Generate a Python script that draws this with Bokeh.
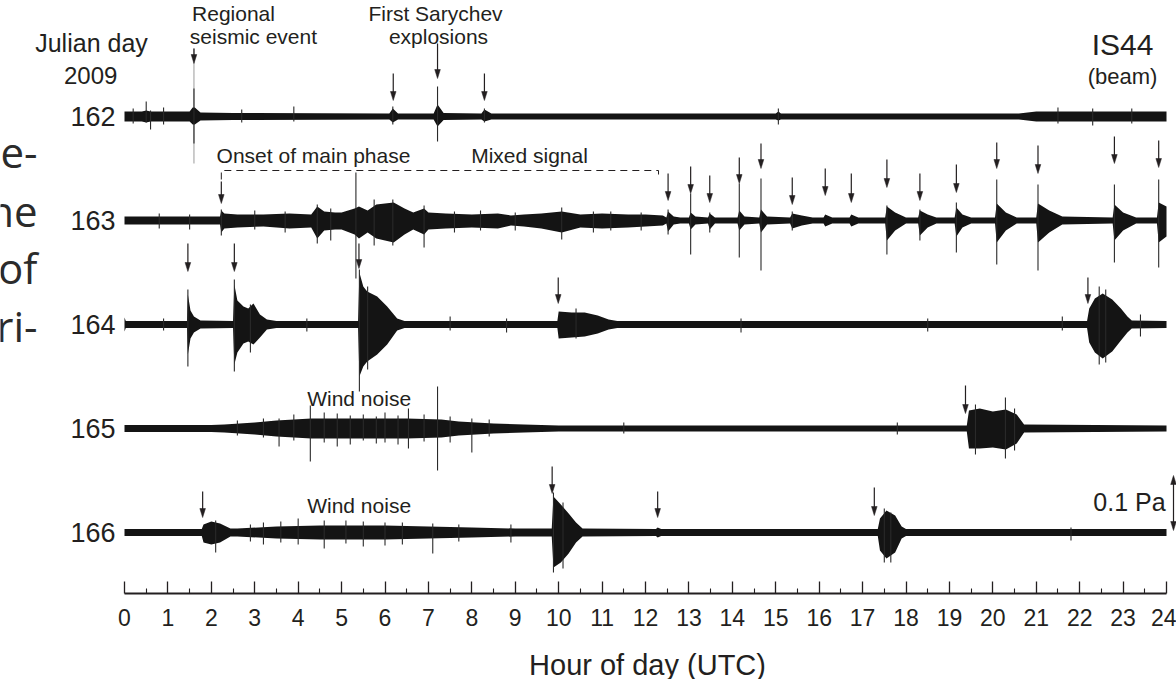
from bokeh.plotting import figure
from bokeh.layouts import column
from bokeh.models import Range1d, LinearAxis, FixedTicker
from bokeh.core.properties import value
from bokeh.embed import file_html
from bokeh.resources import INLINE

# ---------------- data ----------------
DAYS = [162, 163, 164, 165, 166]
HOUR_TICKS = list(range(25))
HALF_HOURS = [h + 0.5 for h in range(24)]
X_TITLE = "Hour of day (UTC)"

# envelope breakpoints per day: (hour, amplitude above, amplitude below)
# amplitude units: 55 units = 0.1 Pa (scale bar)
D162 = [(0, 5, 5), (0.4, 5, 5), (0.5, 6, 6), (0.6, 5, 5), (1.5, 5, 5), (1.57, 9, 8), (1.62, 9, 8),
        (1.75, 4, 4), (2.5, 3.5, 3.5), (6.1, 3, 3), (6.18, 8, 6), (6.3, 3, 3), (7.12, 3, 3),
        (7.21, 12, 10), (7.35, 3.5, 3.5), (8.22, 3, 3), (8.29, 7, 5), (8.45, 3, 3), (15.0, 3, 3),
        (15.06, 5, 4), (15.12, 3, 3), (20.6, 3, 3), (21.0, 5, 5), (24, 5, 5)]
D163 = [(0, 4, 4), (2.2, 4, 4), (2.23, 10, 12), (2.3, 7, 8), (2.6, 6, 7), (3.2, 6, 6), (3.8, 7, 8),
        (4.3, 6, 7), (4.44, 14, 18), (4.6, 9, 10), (4.85, 8, 9), (5.0, 8, 9), (5.3, 12, 14),
        (5.4, 14, 18), (5.6, 10, 12), (5.8, 16, 18), (6.0, 17, 20), (6.2, 18, 22), (6.45, 12, 14),
        (6.65, 8, 9), (6.9, 12, 14), (7.0, 8, 9), (7.4, 7, 8), (8.0, 6, 7), (8.6, 7, 8), (8.9, 5, 5),
        (9.2, 6, 6), (9.6, 7, 8), (10.07, 9, 12), (10.5, 6, 7), (11.0, 7, 8), (11.6, 6, 7),
        (12.0, 6, 6), (12.4, 5, 5), (12.48, 3, 3), (12.52, 9, 11), (12.65, 4, 4), (12.8, 3, 3),
        (13.0, 3, 3), (13.04, 8, 9), (13.15, 4, 4), (13.44, 3, 3), (13.48, 7, 9), (13.6, 3, 3),
        (14.12, 3, 3), (14.16, 10, 10), (14.28, 4, 4), (14.62, 3, 3), (14.66, 11, 12), (14.8, 4, 4),
        (15.33, 3, 3), (15.38, 7, 8), (15.6, 5, 5), (15.85, 3, 3), (16.1, 3, 3), (16.14, 6, 6),
        (16.3, 3, 3), (16.7, 3, 3), (16.74, 6, 6), (16.9, 3, 3), (17.52, 3, 3), (17.56, 14, 20),
        (17.75, 8, 10), (18.0, 3, 3), (18.28, 3, 3), (18.32, 10, 15), (18.5, 6, 7), (18.7, 3, 3),
        (19.12, 3, 3), (19.16, 13, 16), (19.3, 6, 7), (19.5, 3, 3), (20.05, 3, 3), (20.09, 17, 22),
        (20.3, 8, 10), (20.55, 3, 3), (21.0, 3, 3), (21.04, 17, 22), (21.3, 10, 12), (21.6, 4, 4),
        (22.76, 3, 3), (22.8, 16, 20), (23.0, 8, 10), (23.3, 3, 3), (23.78, 3, 3), (23.82, 18, 22),
        (24, 14, 16)]
D164 = [(0, 7, 7), (0.03, 3.5, 3.5), (1.44, 3.5, 3.5), (1.46, 30, 30), (1.52, 14, 14), (1.6, 8, 8),
        (1.75, 4, 4), (2.5, 3.5, 3.5), (2.53, 40, 40), (2.6, 24, 28), (2.74, 18, 19), (2.85, 16, 17),
        (2.97, 21, 20), (3.12, 10, 13), (3.28, 5, 5), (3.5, 3.5, 3.5), (5.38, 3.5, 3.5),
        (5.41, 52, 52), (5.5, 38, 42), (5.59, 33, 37), (5.82, 28, 30), (6.05, 18, 20), (6.28, 6, 6),
        (6.45, 3.5, 3.5), (9.97, 3.5, 3.5), (10.0, 13, 14), (10.3, 12, 13), (10.6, 12, 12),
        (10.9, 9, 9), (11.15, 5, 5), (11.35, 3.5, 3.5), (22.17, 3.5, 3.5), (22.22, 16, 18),
        (22.35, 26, 28), (22.53, 31, 34), (22.75, 25, 27), (22.95, 16, 16), (23.1, 8, 8),
        (23.2, 4, 4), (24, 3.5, 3.5)]
D165 = [(0, 3.5, 3.5), (2.0, 3.5, 3.5), (2.3, 4, 4), (3.0, 6, 6), (3.5, 8, 8), (4.3, 10, 10),
        (5.5, 10, 10), (6.5, 10, 10), (7.3, 9, 9), (7.7, 7, 7), (8.5, 5, 5), (9.2, 4, 4), (10, 3, 3),
        (19.4, 3, 3), (19.45, 18, 20), (19.7, 20, 20), (20.0, 17, 19), (20.3, 19, 21),
        (20.55, 14, 15), (20.72, 4, 4), (24, 3, 3)]
D166 = [(0, 3.5, 3.5), (1.78, 3.5, 3.5), (1.82, 8, 10), (2.0, 11, 12), (2.2, 9, 10), (2.44, 4, 4),
        (2.6, 4, 4), (3.5, 6, 6), (4.5, 7, 7), (6.0, 7, 7), (7.0, 6, 6), (8.0, 5, 5), (9.0, 4, 4),
        (9.84, 4, 4), (9.88, 36, 35), (10.05, 28, 30), (10.23, 19, 21), (10.4, 10, 10),
        (10.55, 4, 4), (12.24, 3.5, 3.5), (12.28, 5, 5), (12.36, 3.5, 3.5), (17.35, 3.5, 3.5),
        (17.4, 14, 18), (17.55, 22, 26), (17.75, 17, 20), (17.9, 6, 6), (18.0, 3.5, 3.5),
        (24, 3.5, 3.5)]

# isolated spikes per day: (hour, peak above, peak below)
S162 = [(0.2, 8, 7), (0.5, 15, 6), (0.6, 6, 13), (0.9, 9, 8), (1.6, 28, 27), (2.7, 7, 6),
        (3.9, 10, 5), (6.18, 10, 8), (7.21, 30, 25), (8.29, 8, 6), (15.06, 8, 8), (21.5, 9, 7),
        (22.3, 8, 9), (23.2, 8, 7)]
S163 = [(0.8, 7, 8), (1.5, 6, 9), (2.23, 11, 15), (3.0, 10, 9), (3.7, 9, 12), (4.44, 16, 23),
        (4.75, 12, 20), (5.33, 48, 58), (5.75, 21, 25), (6.18, 21, 25), (6.9, 15, 27), (7.6, 9, 12),
        (8.2, 10, 10), (9.0, 8, 10), (10.07, 13, 19), (10.8, 9, 12), (11.2, 9, 10), (11.9, 8, 10),
        (12.52, 11, 14), (13.04, 27, 34), (13.48, 8, 12), (14.16, 37, 37), (14.66, 42, 50),
        (15.38, 9, 10), (17.56, 15, 34), (18.32, 11, 20), (19.16, 18, 32), (20.09, 41, 44),
        (21.04, 36, 50), (22.8, 36, 42), (23.82, 41, 47)]
S164 = [(0.9, 6, 6), (1.46, 35, 42), (2.53, 45, 47), (2.9, 20, 28), (4.2, 6, 7), (5.41, 55, 67),
        (5.6, 38, 45), (7.5, 8, 6), (8.8, 6, 8), (10.4, 16, 14), (14.2, 6, 8), (18.5, 6, 7),
        (21.6, 8, 6), (22.45, 38, 40), (22.6, 35, 38), (23.4, 10, 12)]
S165 = [(2.6, 8, 7), (3.2, 10, 9), (3.56, 10, 18), (3.9, 14, 12), (4.28, 23, 33), (4.6, 16, 14),
        (4.9, 15, 18), (5.2, 13, 16), (5.5, 14, 12), (5.8, 12, 15), (6.0, 16, 14), (6.3, 13, 16),
        (6.54, 20, 20), (6.9, 14, 13), (7.21, 42, 42), (7.5, 12, 14), (8.0, 10, 24), (8.4, 9, 8),
        (11.5, 6, 5), (17.8, 6, 6), (19.6, 24, 26), (20.29, 31, 30), (20.5, 20, 22)]
S166 = [(2.1, 12, 20), (2.9, 8, 9), (3.2, 10, 12), (3.6, 11, 10), (4.0, 14, 12), (4.6, 12, 16),
        (5.1, 12, 11), (5.5, 11, 14), (6.0, 10, 13), (6.4, 10, 12), (7.1, 9, 21), (7.7, 8, 9),
        (8.9, 8, 10), (9.88, 40, 40), (10.1, 30, 36), (17.5, 24, 30), (17.65, 20, 30),
        (21.8, 5, 8)]

ENVELOPES = [D162, D163, D164, D165, D166]
SPIKES = [S162, S163, S164, S165, S166]

# event arrows: hour, top of shaft, tip (page rows)
ARROW_H = [1.60, 6.19, 7.21, 8.29, 2.23, 12.52, 13.04, 13.48, 14.16, 14.66, 15.38, 16.14, 16.74,
           17.56, 18.32, 19.16, 20.09, 21.04, 22.80, 23.82, 1.46, 2.53, 5.40, 9.99, 22.19, 19.37,
           1.80, 9.85, 12.28, 17.27]
ARROW_TOP = [48, 73, 43, 73, 181, 173, 166, 175, 157, 143, 177, 168, 173, 159, 173, 164, 142, 145,
             136, 140, 243, 243, 243, 277, 277, 385, 491, 466, 491, 487]
ARROW_TIP = [63, 100, 78, 100, 203, 200, 193, 202, 183, 168, 204, 195, 202, 187, 200, 192, 168, 173,
             163, 167, 271, 271, 268, 303, 303, 413, 517, 493, 517, 515]

# ---------------- layout ----------------
PX_PER_H = 43.417
X0 = -124 / PX_PER_H
X1 = (1176 - 124) / PX_PER_H
BASE0, SPACING = 116, 104
INK = "#231f20"
FONT = value("Liberation Sans")
TOP_H, TITLE_H = 639, 40

xr = Range1d(X0, X1)
p = figure(width=1176, height=TOP_H, x_range=xr, y_range=Range1d(593, 0),
           x_axis_type=None, y_axis_type=None, output_backend="svg", toolbar_location=None,
           min_border_left=0, min_border_right=0, min_border_top=0, min_border_bottom=TOP_H - 593)
p.outline_line_color = None
p.background_fill_color = "white"
p.border_fill_color = "white"

# faint full-height trace of the regional event
p.segment(x0=[1.6], y0=[48], x1=[1.6], y1=[163], line_color="#9a9a9a", line_width=1)

for i, (env, spk) in enumerate(zip(ENVELOPES, SPIKES)):
    base = BASE0 + i * SPACING
    hx = [e[0] for e in env]
    p.varea(x=hx, y1=[base - e[1] for e in env], y2=[base + e[2] for e in env],
            fill_color="#141414")
    p.segment(x0=[s[0] for s in spk], y0=[base - s[1] for s in spk],
              x1=[s[0] for s in spk], y1=[base + s[2] for s in spk],
              line_color="#2a2a2a", line_width=1.1)

# arrows
HEAD_L = 9
HEAD_W = 2.8 / PX_PER_H
p.segment(x0=ARROW_H, y0=ARROW_TOP, x1=ARROW_H, y1=[t - HEAD_L + 1 for t in ARROW_TIP],
          line_color=INK, line_width=1.2)
p.patches(xs=[[h - HEAD_W, h + HEAD_W, h] for h in ARROW_H],
          ys=[[t - HEAD_L, t - HEAD_L, t] for t in ARROW_TIP],
          fill_color=INK, line_color=INK, line_width=0.5)

# scale bar 0.1 Pa (double arrow)
SB_H, SB_TOP, SB_BOT = 24.161, 475, 530
p.segment(x0=[SB_H], y0=[SB_TOP + 8], x1=[SB_H], y1=[SB_BOT - 8], line_color=INK, line_width=1.2)
p.patches(xs=[[SB_H - HEAD_W, SB_H + HEAD_W, SB_H]] * 2,
          ys=[[SB_TOP + HEAD_L, SB_TOP + HEAD_L, SB_TOP], [SB_BOT - HEAD_L, SB_BOT - HEAD_L, SB_BOT]],
          fill_color=INK, line_color=INK, line_width=0.5)

# dashed bracket (main phase / mixed signal)
p.line(x=[2.23, 2.23, 12.30, 12.30], y=[179, 170, 170, 174], line_color=INK, line_width=1,
       line_dash="7 5")


def txt(fig, x, y, s, size, align="center", font=FONT, color=INK):
    fig.text(x=[x], y=[y], text=[s], text_font=font, text_font_size=size, text_align=align,
             text_baseline="middle", text_color=color)


txt(p, -0.76, 42, "Julian day", "25px")
txt(p, -0.78, 75, "2009", "24px")
for i, d in enumerate(DAYS):
    txt(p, -0.207, BASE0 + i * SPACING, str(d), "27px", align="right")
txt(p, 2.51, 13, "Regional", "21px")
txt(p, 2.97, 36, "seismic event", "21px")
txt(p, 7.163, 13, "First Sarychev", "21px")
txt(p, 7.232, 36, "explosions", "21px")
txt(p, 22.986, 44, "IS44", "30px")
txt(p, 22.986, 76, "(beam)", "22px")
txt(p, 4.353, 155, "Onset of main phase", "21px")
txt(p, 9.328, 155, "Mixed signal", "21px")
txt(p, 5.404, 398, "Wind noise", "21px")
txt(p, 5.404, 505, "Wind noise", "21px")
txt(p, 23.147, 501, "0.1 Pa", "25px")

# fragments of the neighbouring text column (cut at the page edge)
for s, yb in zip(["e-", "ne", "of", "ri-"], [152, 210, 267, 325]):
    p.text(x=[-2.004], y=[yb], text=[s], text_font=value("Open Sans"), text_font_size="42px",
           text_align="right", text_baseline="alphabetic", text_color="#2b2b2b")

# hour axis
ax = LinearAxis(ticker=FixedTicker(ticks=HOUR_TICKS, minor_ticks=HALF_HOURS), bounds=(0, 24))
ax.axis_line_color = INK
ax.axis_line_width = 2
ax.major_tick_in = 12
ax.major_tick_out = 0
ax.minor_tick_in = 5
ax.minor_tick_out = 0
ax.major_tick_line_color = INK
ax.minor_tick_line_color = INK
ax.major_tick_line_width = 1.3
ax.minor_tick_line_width = 1.1
ax.major_label_text_font = "Liberation Sans"
ax.major_label_text_font_size = "23px"
ax.major_label_text_color = INK
ax.major_label_standoff = 15
p.add_layout(ax, "below")

# strip under the axis holding the axis title (cut by the page bottom as in the original)
t = figure(width=1176, height=TITLE_H, x_range=xr, y_range=Range1d(TOP_H + TITLE_H, TOP_H),
           x_axis_type=None, y_axis_type=None, output_backend="svg", toolbar_location=None,
           min_border=0)
t.outline_line_color = None
t.background_fill_color = "white"
t.border_fill_color = "white"
txt(t, 12.046, 664, X_TITLE, "29px")

layout = column(p, t, spacing=0)
open("out.html", "w").write(file_html(layout, INLINE))
